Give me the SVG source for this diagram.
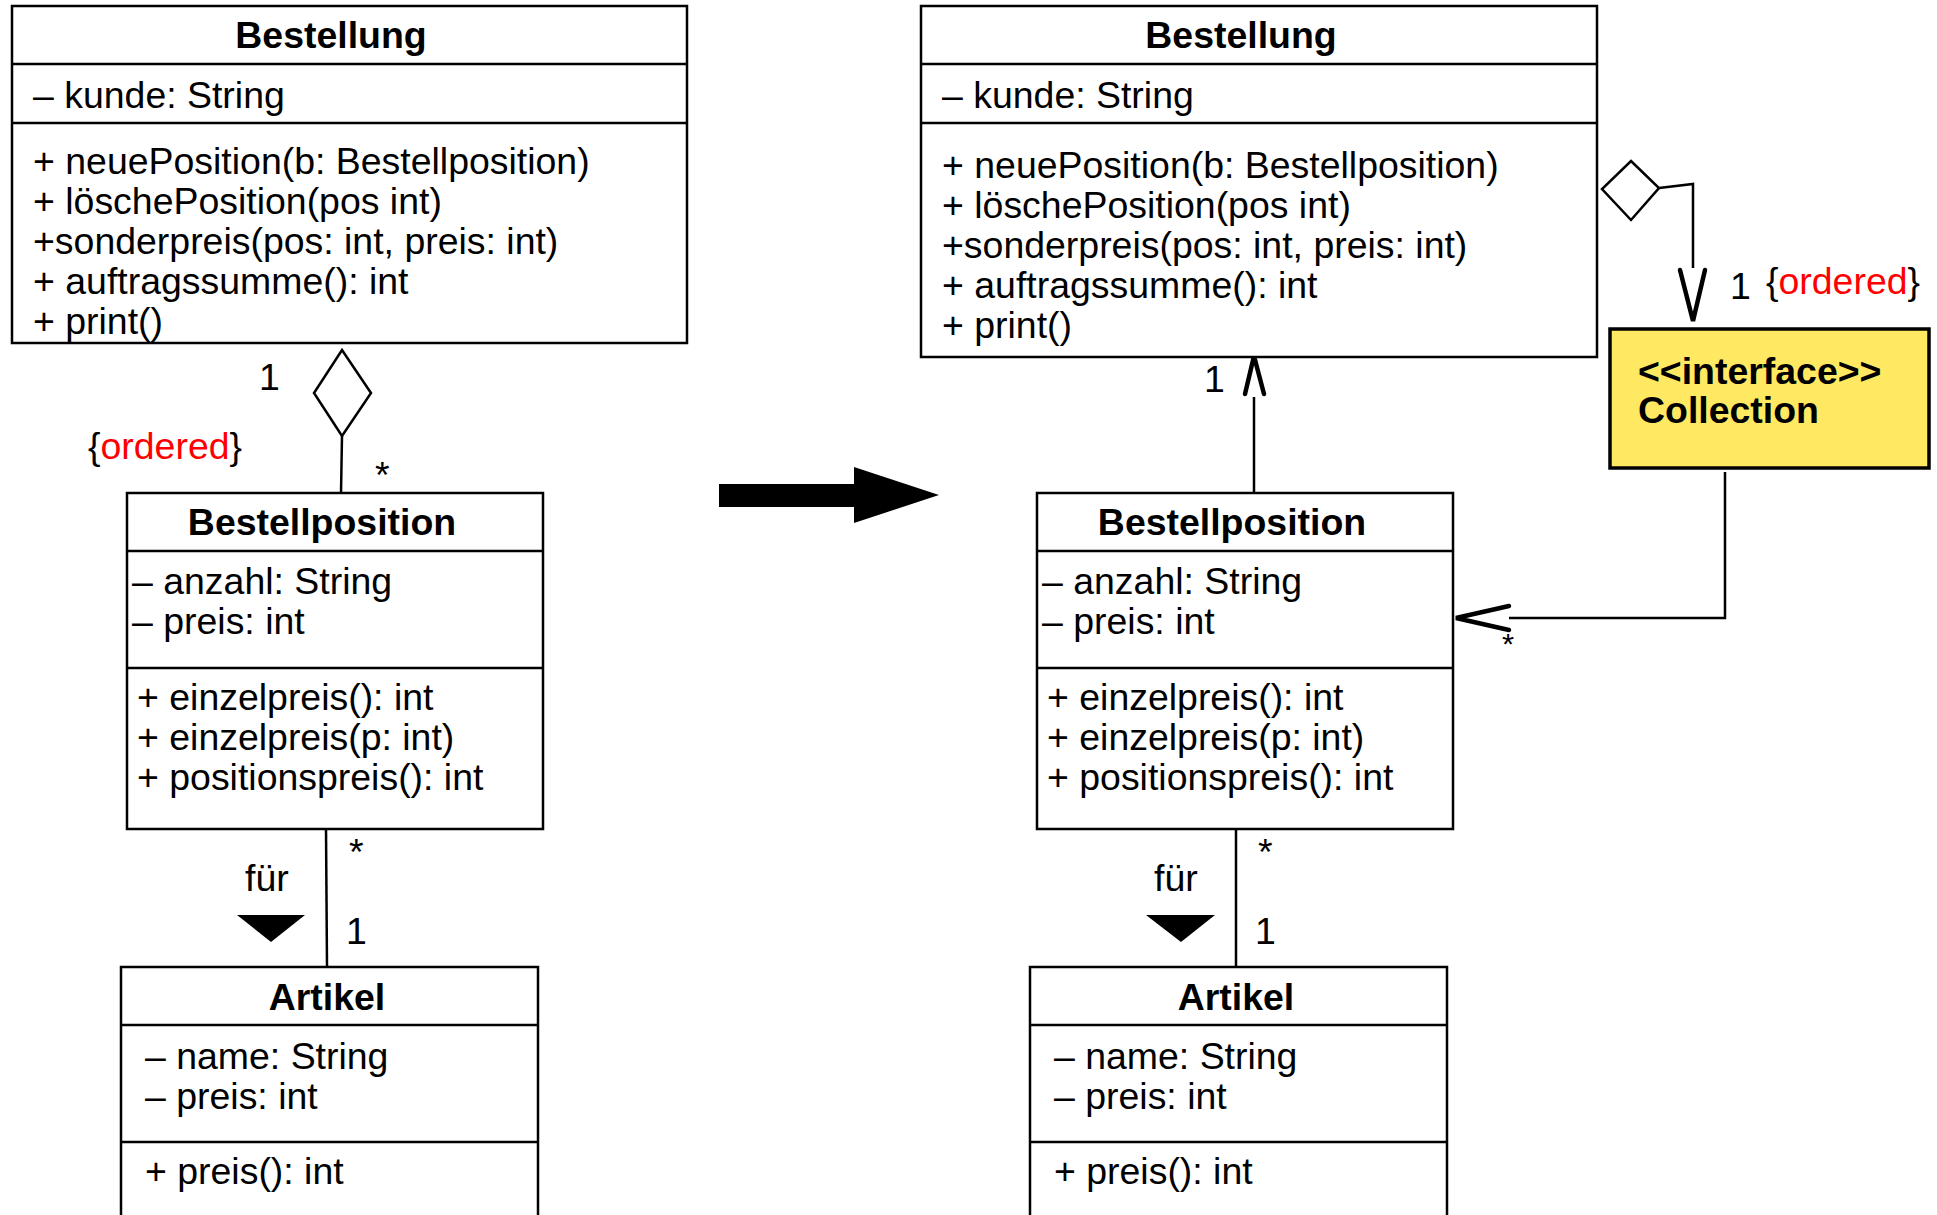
<svg xmlns="http://www.w3.org/2000/svg" width="1937" height="1215" viewBox="0 0 1937 1215">
<style>
.box{fill:#fff;stroke:#000;stroke-width:2.5}
.div{stroke:#000;stroke-width:2.5}
.ln{fill:none;stroke:#000;stroke-width:2.5}
.hd{fill:none;stroke:#000;stroke-width:4.5;stroke-linecap:round;stroke-linejoin:miter}
.t{font-family:"Liberation Sans",Arial,Helvetica,sans-serif;font-size:36px;fill:#000}
.b{font-weight:bold}
.m{text-anchor:middle}
.red{fill:#ff0000}
.iface{fill:#ffe862;stroke:#000;stroke-width:3.5}
</style>
<rect width="1937" height="1215" fill="#fff"/>

<g id="connectors">
  <!-- left: aggregation Bestellung - Bestellposition -->
  <line class="ln" x1="342" y1="436" x2="341" y2="493"/>
  <polygon points="342,350 371,393 342,436 314,393" fill="#fff" stroke="#000" stroke-width="2.5"/>
  <!-- left: Bestellposition - Artikel -->
  <line class="ln" x1="326" y1="829" x2="327" y2="967"/>
  <polygon points="237,915 305,915 271,942" fill="#000"/>
  <!-- transformation arrow -->
  <polygon points="719,484 854,484 854,467 939,495 854,523 854,507 719,507" fill="#000"/>
  <!-- right: Bestellposition -> Bestellung -->
  <line class="ln" x1="1254" y1="493" x2="1254" y2="397"/>
  <polyline class="hd" points="1245,394 1254,356 1264,394"/>
  <!-- right: aggregation Bestellung -> Collection -->
  <polygon points="1631,161 1659,188 1631,220 1602,189" fill="#fff" stroke="#000" stroke-width="2.5"/>
  <polyline class="ln" points="1659,188 1693,184 1693,268"/>
  <polyline class="hd" points="1680,270 1693,321 1705,270"/>
  <!-- right: Collection -> Bestellposition -->
  <polyline class="ln" points="1725,472 1725,618 1509,618"/>
  <polyline class="hd" points="1509,606 1456,618 1509,630"/>
  <!-- right: Bestellposition - Artikel -->
  <line class="ln" x1="1236" y1="829" x2="1236" y2="967"/>
  <polygon points="1146,915 1215,915 1181,942" fill="#000"/>

  <!-- labels -->
  <text class="t" transform="translate(259 390) scale(1.04 1)">1</text>
  <text class="t" transform="translate(88 459) scale(1.04 1)">{<tspan class="red">ordered</tspan>}</text>
  <text class="t" transform="translate(375 488) scale(1.04 1)">*</text>
  <text class="t" transform="translate(349 865) scale(1.04 1)">*</text>
  <text class="t" transform="translate(245 891) scale(1.04 1)">für</text>
  <text class="t" transform="translate(346 944) scale(1.04 1)">1</text>

  <text class="t" transform="translate(1204 392) scale(1.04 1)">1</text>
  <text class="t" transform="translate(1730 299) scale(1.04 1)">1</text>
  <text class="t" transform="translate(1766 294) scale(1.04 1)">{<tspan class="red">ordered</tspan>}</text>
  <text class="t" style="font-size:30px" transform="translate(1502 654) scale(1.04 1)">*</text>
  <text class="t" transform="translate(1258 865) scale(1.04 1)">*</text>
  <text class="t" transform="translate(1154 891) scale(1.04 1)">für</text>
  <text class="t" transform="translate(1255 944) scale(1.04 1)">1</text>
</g>

<!-- LEFT SIDE -->
<g id="bestellung-left">
  <rect class="box" x="12" y="6" width="675" height="337"/>
  <line class="div" x1="12" y1="64" x2="687" y2="64"/>
  <line class="div" x1="12" y1="123" x2="687" y2="123"/>
  <text class="t b m" transform="translate(331 48) scale(1.04 1)">Bestellung</text>
  <text class="t" transform="translate(33 108) scale(1.04 1)">– kunde: String</text>
  <text class="t" transform="translate(33 174) scale(1.04 1)">+ neuePosition(b: Bestellposition)</text>
  <text class="t" transform="translate(33 214) scale(1.04 1)">+ löschePosition(pos int)</text>
  <text class="t" transform="translate(33 254) scale(1.04 1)">+sonderpreis(pos: int, preis: int)</text>
  <text class="t" transform="translate(33 294) scale(1.04 1)">+ auftragssumme(): int</text>
  <text class="t" transform="translate(33 334) scale(1.04 1)">+ print()</text>
</g>

<g id="bestellposition-left">
  <rect class="box" x="127" y="493" width="416" height="336"/>
  <line class="div" x1="127" y1="551" x2="543" y2="551"/>
  <line class="div" x1="127" y1="668" x2="543" y2="668"/>
  <text class="t b m" transform="translate(322 535) scale(1.04 1)">Bestellposition</text>
  <text class="t" transform="translate(132 594) scale(1.04 1)">– anzahl: String</text>
  <text class="t" transform="translate(132 634) scale(1.04 1)">– preis: int</text>
  <text class="t" transform="translate(137 710) scale(1.04 1)">+ einzelpreis(): int</text>
  <text class="t" transform="translate(137 750) scale(1.04 1)">+ einzelpreis(p: int)</text>
  <text class="t" transform="translate(137 790) scale(1.04 1)">+ positionspreis(): int</text>
</g>

<g id="artikel-left">
  <rect class="box" x="121" y="967" width="417" height="260"/>
  <line class="div" x1="121" y1="1025" x2="538" y2="1025"/>
  <line class="div" x1="121" y1="1142" x2="538" y2="1142"/>
  <text class="t b m" transform="translate(327 1010) scale(1.04 1)">Artikel</text>
  <text class="t" transform="translate(145 1069) scale(1.04 1)">– name: String</text>
  <text class="t" transform="translate(145 1109) scale(1.04 1)">– preis: int</text>
  <text class="t" transform="translate(145 1184) scale(1.04 1)">+ preis(): int</text>
</g>

<!-- RIGHT SIDE -->
<g id="bestellung-right">
  <rect class="box" x="921" y="6" width="676" height="351"/>
  <line class="div" x1="921" y1="64" x2="1597" y2="64"/>
  <line class="div" x1="921" y1="123" x2="1597" y2="123"/>
  <text class="t b m" transform="translate(1241 48) scale(1.04 1)">Bestellung</text>
  <text class="t" transform="translate(942 108) scale(1.04 1)">– kunde: String</text>
  <text class="t" transform="translate(942 178) scale(1.04 1)">+ neuePosition(b: Bestellposition)</text>
  <text class="t" transform="translate(942 218) scale(1.04 1)">+ löschePosition(pos int)</text>
  <text class="t" transform="translate(942 258) scale(1.04 1)">+sonderpreis(pos: int, preis: int)</text>
  <text class="t" transform="translate(942 298) scale(1.04 1)">+ auftragssumme(): int</text>
  <text class="t" transform="translate(942 338) scale(1.04 1)">+ print()</text>
</g>

<g id="collection">
  <rect class="iface" x="1610" y="329" width="319" height="139"/>
  <text class="t b" transform="translate(1638 384) scale(1.04 1)">&lt;&lt;interface&gt;&gt;</text>
  <text class="t b" transform="translate(1638 423) scale(1.04 1)">Collection</text>
</g>

<g id="bestellposition-right">
  <rect class="box" x="1037" y="493" width="416" height="336"/>
  <line class="div" x1="1037" y1="551" x2="1453" y2="551"/>
  <line class="div" x1="1037" y1="668" x2="1453" y2="668"/>
  <text class="t b m" transform="translate(1232 535) scale(1.04 1)">Bestellposition</text>
  <text class="t" transform="translate(1042 594) scale(1.04 1)">– anzahl: String</text>
  <text class="t" transform="translate(1042 634) scale(1.04 1)">– preis: int</text>
  <text class="t" transform="translate(1047 710) scale(1.04 1)">+ einzelpreis(): int</text>
  <text class="t" transform="translate(1047 750) scale(1.04 1)">+ einzelpreis(p: int)</text>
  <text class="t" transform="translate(1047 790) scale(1.04 1)">+ positionspreis(): int</text>
</g>

<g id="artikel-right">
  <rect class="box" x="1030" y="967" width="417" height="260"/>
  <line class="div" x1="1030" y1="1025" x2="1447" y2="1025"/>
  <line class="div" x1="1030" y1="1142" x2="1447" y2="1142"/>
  <text class="t b m" transform="translate(1236 1010) scale(1.04 1)">Artikel</text>
  <text class="t" transform="translate(1054 1069) scale(1.04 1)">– name: String</text>
  <text class="t" transform="translate(1054 1109) scale(1.04 1)">– preis: int</text>
  <text class="t" transform="translate(1054 1184) scale(1.04 1)">+ preis(): int</text>
</g>
</svg>
